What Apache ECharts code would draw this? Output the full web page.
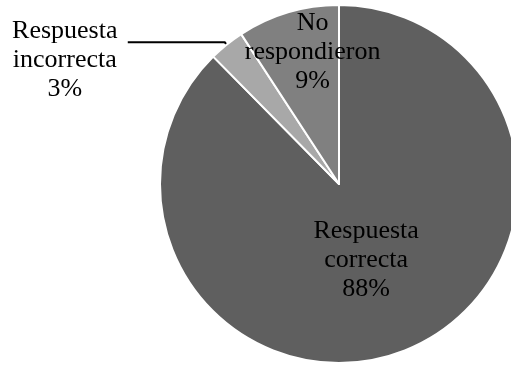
<!DOCTYPE html>
<html>
<head>
<meta charset="utf-8">
<script src="https://cdn.jsdelivr.net/npm/echarts@6/dist/echarts.min.js"></script>
<style>
html,body{margin:0;padding:0;background:#fff;}
#chart{width:511px;height:368px;}
</style>
</head>
<body>
<div id="chart"></div>
<script>
const categories = ['Respuesta\ncorrecta', 'Respuesta\nincorrecta', 'No\nrespondieron'];
const values = [87.6, 3.2, 9.2];
const colors = ['#5f5f5f', '#a8a8a8', '#808080'];

const chart = echarts.init(document.getElementById('chart'));
const labelShift = [[-8, -9], [-58, 18], [0, -43]];

chart.setOption({
  backgroundColor: '#ffffff',
  animation: false,
  series: [{
    type: 'pie',
    center: [339, 184],
    radius: [0, 179],
    startAngle: 90,
    clockwise: true,
    avoidLabelOverlap: false,
    itemStyle: { borderColor: '#ffffff', borderWidth: 2 },
    label: {
      position: 'inside',
      fontFamily: '"Liberation Serif", "Times New Roman", serif',
      fontSize: 26,
      lineHeight: 29,
      color: '#000000',
      align: 'center',
      formatter: p => p.name + '\n' + Math.round(p.percent) + '%'
    },
    labelLayout: function (params) {
      const s = labelShift[params.dataIndex];
      const r = { dx: s[0], dy: s[1] };
      if (params.dataIndex === 1) r.align = 'center';
      return r;
    },
    data: categories.map((c, i) => {
      const d = { name: c, value: values[i], itemStyle: { color: colors[i] } };
      if (i === 1) {
        d.label = { position: 'outside', align: 'center' };
        d.labelLine = { show: true, length: 3, length2: 97, lineStyle: { color: '#000', width: 2 } };
      }
      return d;
    })
  }]
});
</script>
</body>
</html>
